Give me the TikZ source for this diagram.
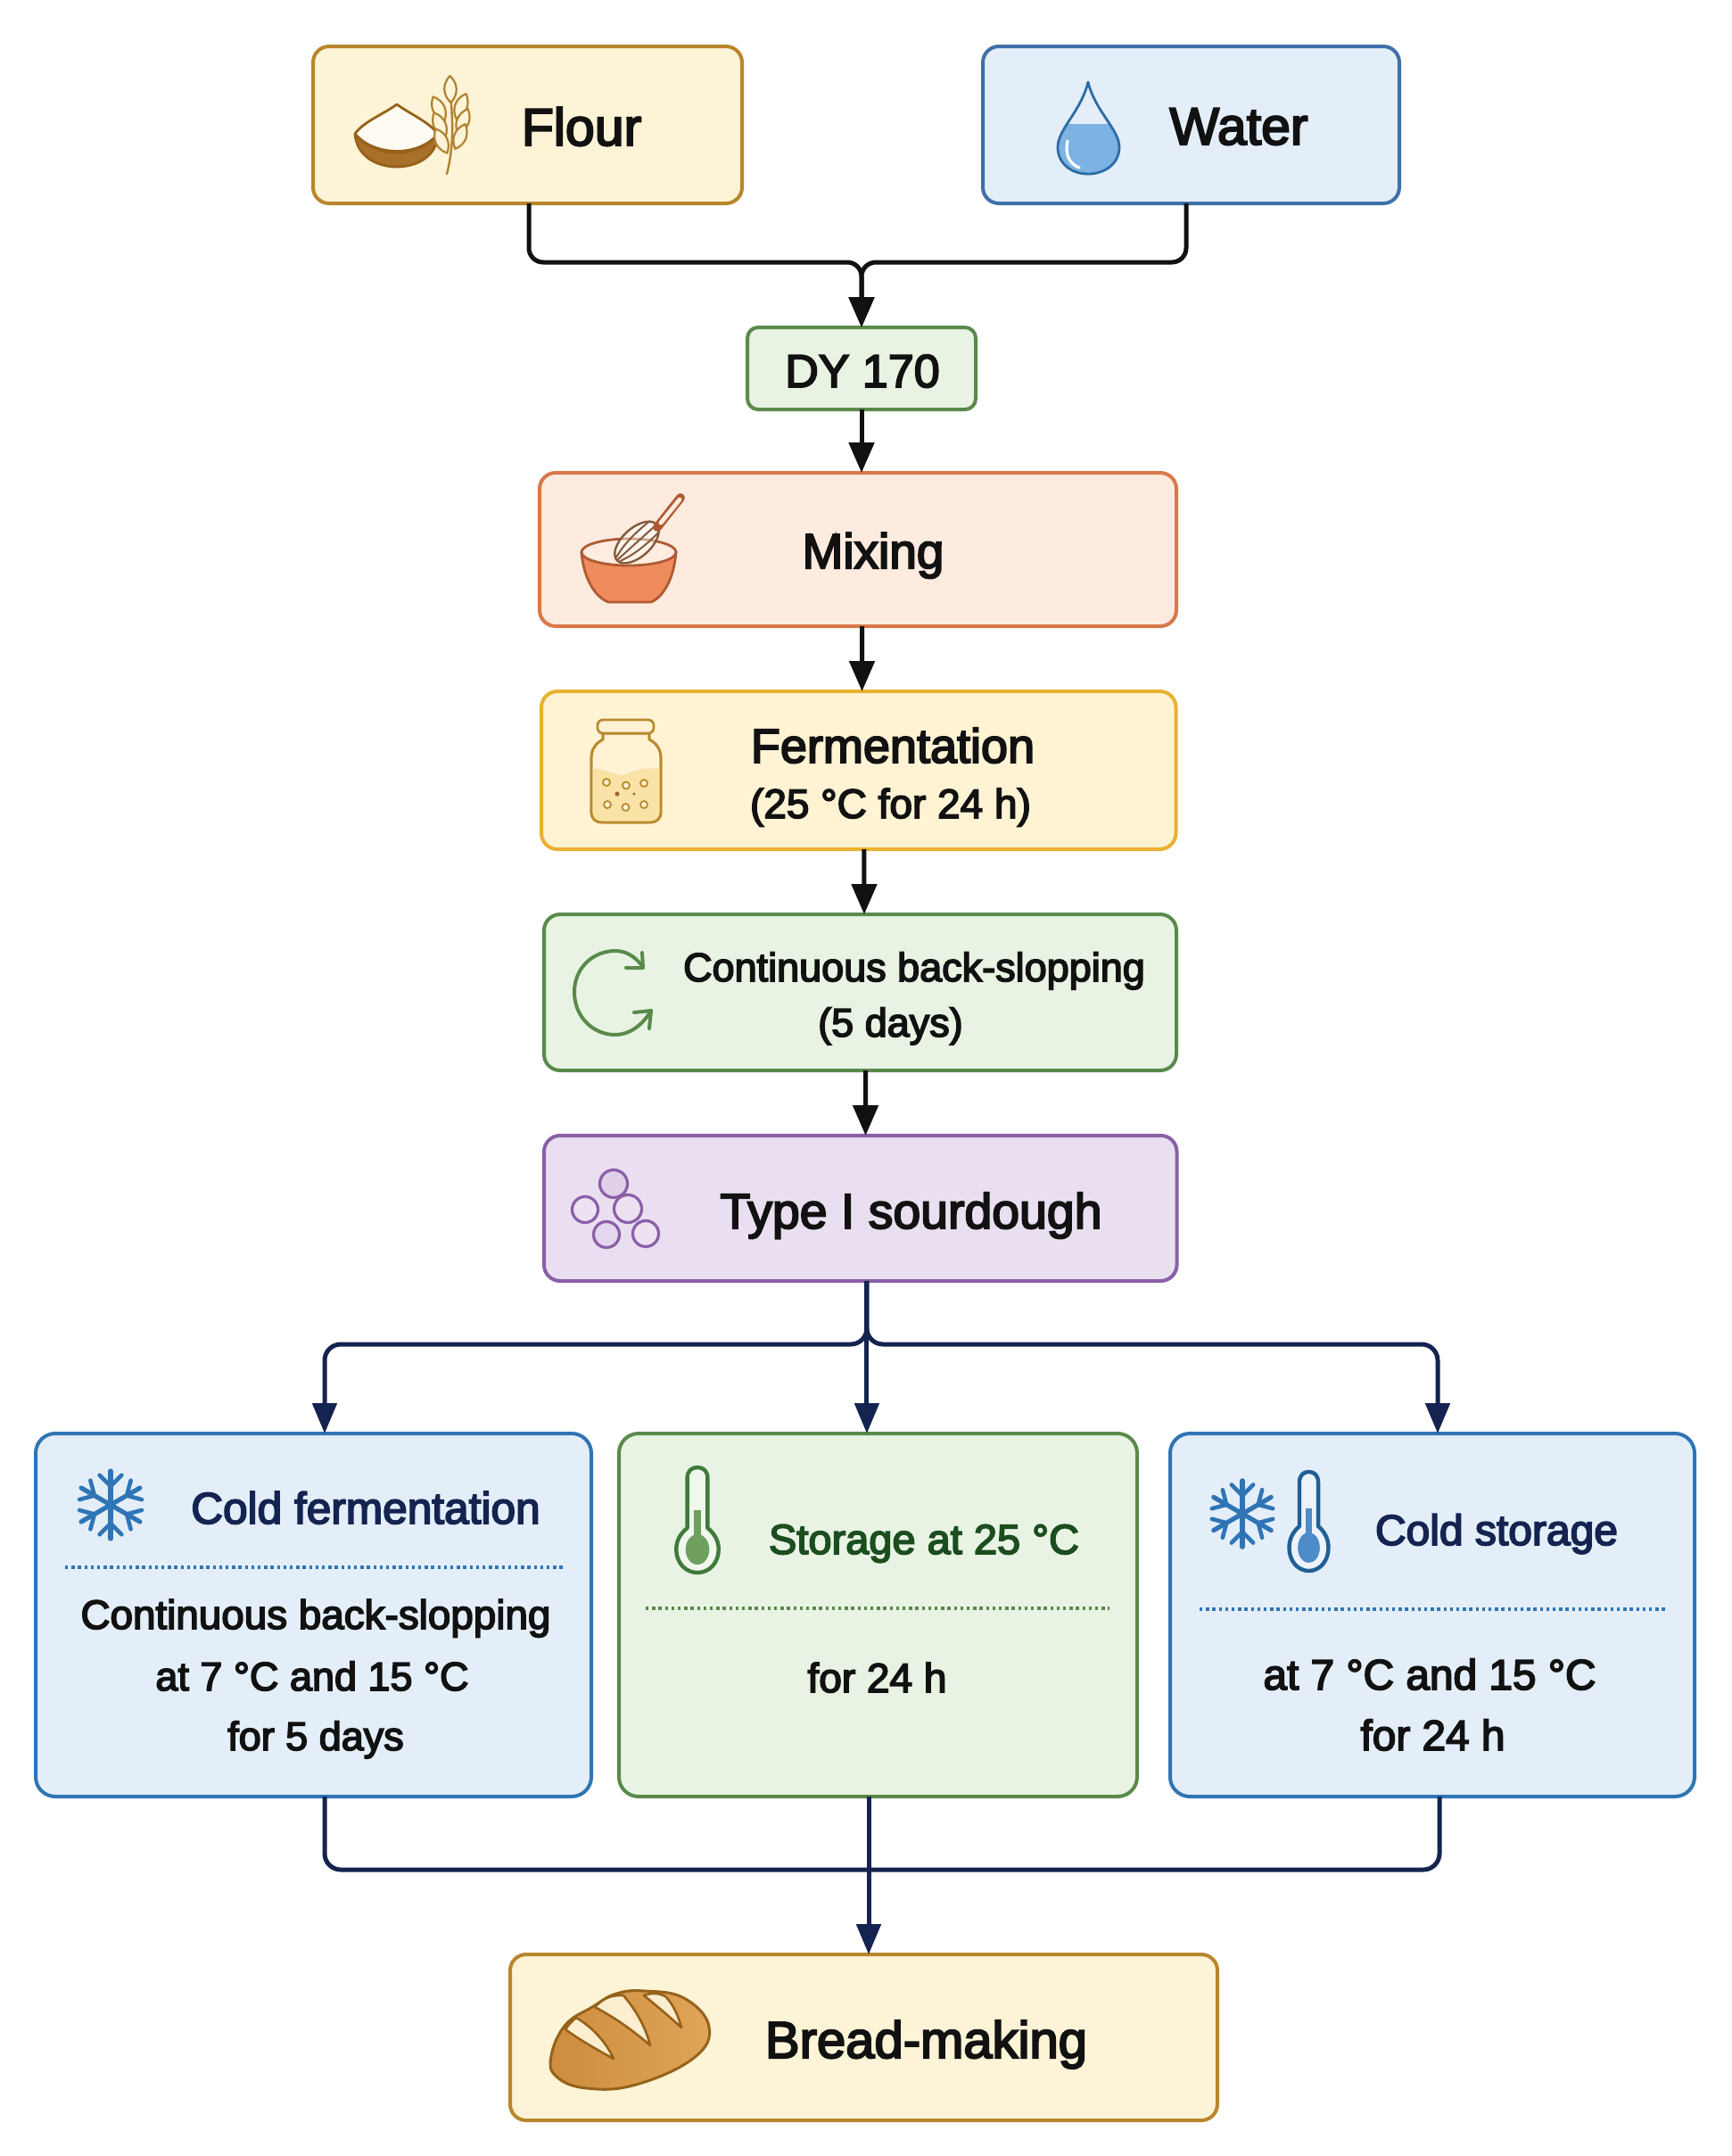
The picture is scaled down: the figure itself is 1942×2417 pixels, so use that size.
\documentclass[tikz,border=0pt]{standalone}
\usepackage{fontspec}
\setmainfont[FakeBold=3.6]{Liberation Sans}
\usetikzlibrary{arrows.meta}
\newcommand\fs[1]{\fontsize{#1}{#1}\selectfont}
\definecolor{ink}{HTML}{111111}
\definecolor{navy}{HTML}{14234F}
\definecolor{dkgreen}{HTML}{1B4D1E}
\definecolor{coldb}{HTML}{2F75B5}
\definecolor{coldf}{HTML}{E3EEF9}
\definecolor{grs}{HTML}{5A8A4A}
\definecolor{grf}{HTML}{E8F3E4}
\definecolor{amb}{HTML}{B9862C}
\definecolor{ambf}{HTML}{FDF3D6}
\definecolor{brown}{HTML}{96621A}
\definecolor{waterb}{HTML}{3F70A8}
\definecolor{mixb}{HTML}{D9784A}
\definecolor{mixf}{HTML}{FDEBE0}
\definecolor{fermb}{HTML}{EAB030}
\definecolor{fermf}{HTML}{FFF3D4}
\definecolor{typeb}{HTML}{8A5FA8}
\definecolor{typef}{HTML}{E9DFF0}
\definecolor{wheat}{HTML}{B08232}
\definecolor{bowl}{HTML}{A9702A}
\definecolor{dropb}{HTML}{2E6CA4}
\definecolor{dropf}{HTML}{7DB3E3}
\definecolor{mixd}{HTML}{B05A32}
\definecolor{mixo}{HTML}{EE8C5E}
\definecolor{mixi}{HTML}{FDECDF}
\definecolor{whisk}{HTML}{825A3C}
\definecolor{jarb}{HTML}{B98A2E}
\definecolor{jarl}{HTML}{F8E2A6}
\definecolor{jard}{HTML}{966428}
\definecolor{ca}{HTML}{E0D0EA}
\definecolor{cb}{HTML}{ECE2F2}
\definecolor{cc}{HTML}{E4D6EC}
\definecolor{thgs}{HTML}{3F7A3A}
\definecolor{thgi}{HTML}{6F9F5E}
\definecolor{thbs}{HTML}{1F5F95}
\definecolor{thbi}{HTML}{4D8CC8}
\definecolor{loafa}{HTML}{CD8C3E}
\definecolor{loafb}{HTML}{E0A558}
\definecolor{cut}{HTML}{FDEED0}
\tikzset{
  box/.style={draw=#1,line width=2pt,rounded corners=9pt,inner sep=0pt,outer sep=0pt},
  lbl/.style={inner sep=0pt,outer sep=0pt,anchor=base,text=ink},
  blackarr/.style={draw=ink,line width=2.5pt,rounded corners=8pt,-{Triangle[length=17pt,width=14pt]}},
  navyarr/.style={draw=navy,line width=2.5pt,rounded corners=9pt,-{Triangle[length=17pt,width=13.5pt]}},
  navyline/.style={draw=navy,line width=2.5pt,rounded corners=9pt},
  sep/.style={line width=1.6pt,dash pattern=on 1.7pt off 1.9pt},
  icon/.style={line width=1.4pt,line join=round,line cap=round},
}
\newcommand\snowflake[4]{%
  \begin{scope}[shift={(#1,#2)},scale=#3]
    \foreach \a in {0,60,...,300}{
      \begin{scope}[rotate=\a]
        \draw[#4,line width=2.6pt,line cap=round] (0,0) -- (0,-40);
        \draw[#4,line width=2.3pt,line cap=round] (-13,-35) -- (0,-22) -- (13,-35);
      \end{scope}
    }
  \end{scope}}
% x, bulb y, tube top offset, stroke, inner colour, x scale
\newcommand\thermo[6]{%
  \begin{scope}[shift={(#1,#2)},xscale=#6]
    \draw[#4,line width=2.2pt,line join=round,fill=white,fill opacity=.35]
      (-12,-#3+12) .. controls (-12,-#3+4) and (-7,-#3) .. (0,-#3)
      .. controls (7,-#3) and (12,-#3+4) .. (12,-#3+12) -- (12,-22)
      .. controls (20,-16) and (25,-8) .. (25,2)
      .. controls (25,17) and (14,28) .. (0,28)
      .. controls (-14,28) and (-25,17) .. (-25,2)
      .. controls (-25,-8) and (-20,-16) .. (-12,-22) -- cycle;
    \fill[#5] (-4.5,-42) rectangle (4.5,-8);
    \fill[#5] (0,2) ellipse [x radius=14,y radius=17];
  \end{scope}}
\newcommand\dropshape{(1220,92) .. controls (1212,125) and (1186,145) .. (1186,165) .. controls (1186,184) and (1202,195) .. (1220,195) .. controls (1238,195) and (1255,184) .. (1255,165) .. controls (1255,145) and (1228,125) .. (1220,92) -- cycle}
\newcommand\jarshape{(676,822) -- (676,829) .. controls (668,833) and (663,840) .. (663,850) -- (663,910) .. controls (663,918) and (668,922) .. (675,922) -- (729,922) .. controls (736,922) and (741,918) .. (741,910) -- (741,850) .. controls (741,840) and (736,833) .. (728,829) -- (728,822) -- cycle}
\begin{document}
\begin{tikzpicture}[x=0.5pt,y=-0.5pt]
\useasboundingbox[fill=white] (0,0) rectangle (1942,2417);

% ---------- boxes
\node[box=amb,fill=ambf,minimum width=240.5pt,minimum height=88pt] (flour) at (591.5,140) {};
\node[box=waterb,fill=coldf,minimum width=233.5pt,minimum height=88pt] (water) at (1335.5,140) {};
\node[box=grs,fill=grf,minimum width=128pt,minimum height=46pt,rounded corners=6pt] (dy) at (966,413) {};
\node[box=mixb,fill=mixf,minimum width=357pt,minimum height=86pt] (mix) at (962,616) {};
\node[box=fermb,fill=fermf,minimum width=355.75pt,minimum height=88.5pt] (ferm) at (962.75,863.5) {};
\node[box=grs,fill=grf,minimum width=354.5pt,minimum height=87.5pt] (cont) at (964.5,1112.5) {};
\node[box=typeb,fill=typef,minimum width=354.75pt,minimum height=81.5pt] (type) at (964.75,1354.5) {};
\node[box=coldb,fill=coldf,minimum width=311.5pt,minimum height=203.5pt,rounded corners=11pt] (cf) at (351.5,1810.5) {};
\node[box=grs,fill=grf,minimum width=290.5pt,minimum height=203.5pt,rounded corners=11pt] (st) at (984.5,1810.5) {};
\node[box=coldb,fill=coldf,minimum width=294pt,minimum height=203.5pt,rounded corners=11pt] (cs) at (1606,1810.5) {};
\node[box=amb,fill=ambf,minimum width=396.5pt,minimum height=93pt] (bread) at (968.5,2284) {};

% ---------- connectors
\coordinate (mergeY) at (0,294);
\coordinate (waterOut) at (1330,228);
\coordinate (flourOut) at (593,228);
\draw[blackarr] (flourOut) -- (flourOut |- mergeY) -- (dy.north |- mergeY) -- (dy.north);
\draw[blackarr] (waterOut) -- (waterOut |- mergeY) -- (dy.north |- mergeY) -- (dy.north);
\draw[blackarr] (dy.south) -- (dy.south |- mix.north);
\draw[blackarr] ([xshift=2.25pt]mix.south) -- ([xshift=1.9pt]ferm.north);
\draw[blackarr] ([xshift=3.1pt]ferm.south) -- ([xshift=2.25pt]cont.north);
\draw[blackarr] ([xshift=3pt]cont.south) -- ([xshift=2.9pt]type.north);

\coordinate (branchY) at (0,1507);
\coordinate (tOut) at ([xshift=3.6pt]type.south);
\coordinate (cfIn) at ([xshift=6.25pt]cf.north);
\coordinate (csIn) at ([xshift=3pt]cs.north);
\draw[navyarr] (tOut) -- (tOut |- branchY) -- (cfIn |- branchY) -- (cfIn);
\draw[navyarr] (tOut) -- (tOut |- branchY) -- (csIn |- branchY) -- (csIn);
\draw[navyarr] (tOut) -- (tOut |- st.north);

\coordinate (joinY) at (0,2096);
\coordinate (cfOut) at ([xshift=6.25pt]cf.south);
\coordinate (csOut) at ([xshift=4pt]cs.south);
\coordinate (stOut) at ([xshift=-5.25pt]st.south);
\draw[navyline] (cfOut) -- (cfOut |- joinY) -- (csOut |- joinY) -- (csOut);
\draw[navyarr] (stOut) -- (stOut |- bread.north);

% ---------- separators
\draw[sep,coldb] (73,1757) -- (632,1757);
\draw[sep,grs] (724,1803) -- (1244,1803);
\draw[sep,coldb] (1345,1804) -- (1867,1804);

% ---------- labels
\node[lbl] (tFlour) at (652,163) {\fs{29.5}Flour};
\node[lbl] (tWater) at (1389,162) {\fs{29.5}Water};
\node[lbl] (tDy) at (967,434) {\fs{26}DY 170};
\node[lbl] (tMix) at (979,637) {\fs{27.5}Mixing};
\node[lbl] (tFerm) at (1001,855) {\fs{27}Fermentation};
\node[lbl] (tFerm2) at (998.5,917) {\fs{23}(25 °C for 24 h)};
\node[lbl] (tCont) at (1025,1100) {\fs{22.5}Continuous back-slopping};
\node[lbl] (tCont2) at (998.5,1162) {\fs{22.5}(5 days)};
\node[lbl] (tType) at (1021.5,1377) {\fs{27.7}Type I sourdough};
\node[lbl,text=navy] (tCf) at (410,1708) {\fs{24.8}Cold fermentation};
\node[lbl] (tCf1) at (354,1826) {\fs{22.9}Continuous back-slopping};
\node[lbl] (tCf2) at (350,1895) {\fs{22.5}at 7 °C and 15 °C};
\node[lbl] (tCf3) at (354,1962) {\fs{22.5}for 5 days};
\node[lbl,text=dkgreen] (tSt) at (1036,1742) {\fs{23.5}Storage at 25 °C};
\node[lbl] (tSt1) at (983.5,1897) {\fs{23}for 24 h};
\node[lbl,text=navy] (tCs) at (1678,1732) {\fs{24}Cold storage};
\node[lbl] (tCs1) at (1603,1894) {\fs{23.9}at 7 °C and 15 °C};
\node[lbl] (tCs2) at (1606.5,1962) {\fs{23.9}for 24 h};
\node[lbl] (tBread) at (1038.5,2307) {\fs{29}Bread-making};

% ---------- flour icon
\draw[icon,brown,fill=bowl] (398,150) .. controls (420,178) and (470,178) .. (491,150) .. controls (490,175) and (468,187) .. (445,187) .. controls (422,187) and (400,175) .. (398,150) -- cycle;
\draw[icon,brown,fill=white!70!ambf] (398,150) .. controls (408,136) and (430,128) .. (445,117) .. controls (460,128) and (480,136) .. (491,150) .. controls (470,176) and (420,176) .. (398,150) -- cycle;
\draw[icon,wheat,line width=1.2pt] (501,195) .. controls (510,160) and (507,130) .. (505,104);
\foreach \gx/\gy/\ga in {492/122/-65, 493/140/-65, 495/158/-65, 517/119/-112, 519/136/-112, 516/153/-112, 505/100/-88}{
  \begin{scope}[shift={(\gx,\gy)},rotate=\ga]
    \draw[wheat,line width=1.1pt,line join=round,fill=ambf] (-15,0) .. controls (-6,-9) and (6,-9) .. (15,0) .. controls (6,9) and (-6,9) .. (-15,0) -- cycle;
  \end{scope}
}

% ---------- water drop
\begin{scope}
  \clip \dropshape;
  \fill[dropf] (1170,139) rectangle (1270,200);
\end{scope}
\draw[icon,dropb] \dropshape;
\draw[white,line width=1.6pt,line cap=round] (1197,158) .. controls (1194,172) and (1198,183) .. (1210,188);

% ---------- mixing icon
\draw[icon,mixd,fill=mixo] (652,619) .. controls (654,645) and (665,668) .. (682,675) -- (730,675) .. controls (746,668) and (756,645) .. (758,619) -- cycle;
\draw[icon,mixd,fill=mixi] (705,619) ellipse [x radius=53,y radius=15];
\begin{scope}[shift={(714,608)},rotate=-48]
  \draw[whisk,line width=1.2pt,fill=white,fill opacity=.45] (0,0) ellipse [x radius=16,y radius=30];
  \draw[whisk,line width=1pt] (-8,-27) .. controls (-9,-10) and (-9,10) .. (-3,28)
    (0,-30) -- (0,30) (8,-27) .. controls (9,-10) and (9,10) .. (3,28);
\end{scope}
\draw[mixd,line width=5pt,line cap=round] (737,591) -- (763,558);
\draw[mixi,line width=2.4pt,line cap=round] (741,586) -- (762,560);

% ---------- jar icon
\draw[icon,jarb,fill=fermf] \jarshape;
\begin{scope}
  \clip \jarshape;
  \fill[jarl] (660,862) .. controls (680,860) and (692,872) .. (702,868) .. controls (715,862) and (725,860) .. (745,862) -- (745,925) -- (660,925) -- cycle;
\end{scope}
\draw[icon,jarb] \jarshape;
\draw[icon,jarb,fill=fermf,rounded corners=3pt] (670,807) rectangle (733,822);
\draw[jarb,line width=.9pt,fill=fermf]
  (680,877) circle [radius=4] (702,880.5) circle [radius=4] (722,878) circle [radius=4]
  (681,902) circle [radius=4] (701.5,905) circle [radius=4] (722,902) circle [radius=4];
\fill[jard] (692,890) circle [radius=2.5] (711,890) circle [radius=1.6];

% ---------- back-slopping icon
\draw[icon,grs,line width=2pt] (644,1112) .. controls (644,1085) and (665,1066) .. (690,1066) .. controls (702,1066) and (712,1072) .. (721,1084);
\draw[icon,grs,line width=2pt] (702,1085) -- (721,1085) -- (720,1068);
\draw[icon,grs,line width=2pt] (644,1112) .. controls (644,1140) and (665,1160) .. (690,1160) .. controls (705,1160) and (720,1150) .. (730,1133);
\draw[icon,grs,line width=2pt] (711,1135) -- (730,1133) -- (728,1153);

% ---------- type I icon
\begin{scope}[typeb,line width=1.6pt]
  \draw[fill=ca] (688,1327) circle [radius=15.5];
  \draw[fill=cb] (656,1356) circle [radius=14.5];
  \draw[fill=cb] (704,1355) circle [radius=15.5];
  \draw[fill=cc] (680,1384) circle [radius=14.5];
  \draw[fill=cb] (724,1383) circle [radius=14.5];
\end{scope}

% ---------- temperature icons
\snowflake{124}{1687}{.95}{coldb}
\thermo{782}{1735}{90}{thgs}{thgi}{.95}
\snowflake{1393}{1697}{.93}{coldb}
\thermo{1467.5}{1733}{83}{thbs}{thbi}{.88}

% ---------- bread icon
\draw[brown,line width=1.5pt,line join=round,left color=loafa,right color=loafb]
  plot[smooth cycle,tension=.7] coordinates {(618,2305) (634,2270) (664,2250) (691,2235) (723,2232) (767,2240) (795,2272) (778,2307) (713,2337) (658,2341) (624,2328)};
\draw[brown,line width=1.3pt,line join=round,fill=cut]
  (634,2275) .. controls (638,2269) and (642,2265) .. (646,2262) .. controls (664,2272) and (680,2290) .. (688,2308) .. controls (670,2298) and (650,2287) .. (634,2275) -- cycle;
\draw[brown,line width=1.3pt,line join=round,fill=cut]
  (667,2250) .. controls (675,2242) and (683,2236) .. (699,2237) .. controls (712,2252) and (724,2272) .. (729,2293) .. controls (712,2278) and (690,2262) .. (667,2250) -- cycle;
\draw[brown,line width=1.3pt,line join=round,fill=cut]
  (722,2237) .. controls (730,2234) and (738,2234) .. (746,2238) .. controls (754,2246) and (760,2258) .. (764,2273) .. controls (752,2262) and (738,2250) .. (722,2237) -- cycle;
\end{tikzpicture}
\end{document}
